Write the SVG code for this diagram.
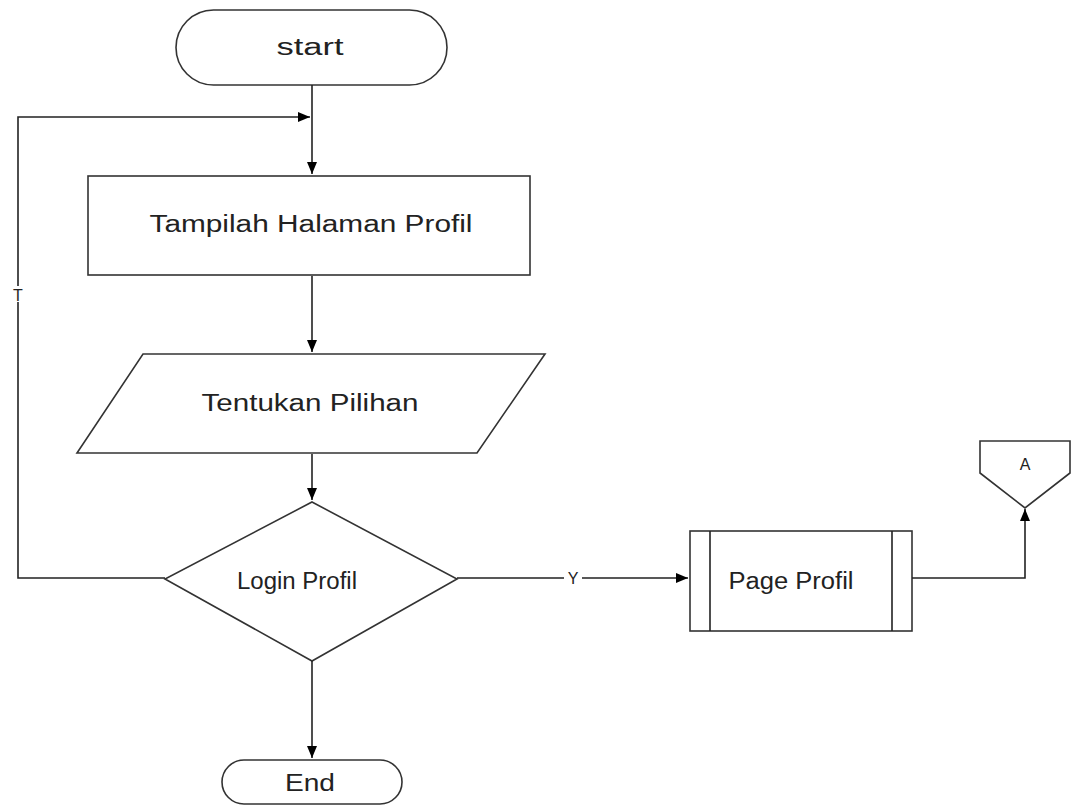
<svg xmlns="http://www.w3.org/2000/svg" width="1072" height="809" viewBox="0 0 1072 809">
<defs>
<marker id="ah" markerWidth="12" markerHeight="10" refX="12" refY="5" orient="auto" markerUnits="userSpaceOnUse">
<path d="M0,0 L12,5 L0,10 Z" fill="#000"/>
</marker>
<style>
.s{fill:#fff;stroke:#333;stroke-width:1.6}
.c{fill:none;stroke:#222;stroke-width:1.6}
.t{font-family:"Liberation Sans",Arial,sans-serif;font-size:23px;fill:#222;text-anchor:middle}
.l{font-family:"Liberation Sans",Arial,sans-serif;font-size:16px;fill:#222;text-anchor:middle}
</style>
</defs>
<rect width="1072" height="809" fill="#fff"/>
<g id="start">
<rect class="s" x="176" y="10" width="271" height="75" rx="37.5"/>
<text class="t" x="310" y="55" textLength="67" lengthAdjust="spacingAndGlyphs">start</text>
</g>
<g id="tampil">
<rect class="s" x="88" y="176" width="442" height="99"/>
<text class="t" x="311" y="232" textLength="323" lengthAdjust="spacingAndGlyphs">Tampilah Halaman Profil</text>
</g>
<g id="tentukan">
<polygon class="s" points="143,354 545,354 477,453 77,453"/>
<text class="t" x="310" y="411" textLength="217" lengthAdjust="spacingAndGlyphs">Tentukan Pilihan</text>
</g>
<g id="login">
<polygon class="s" points="312,502 457,579 312,661 165,579"/>
<text class="t" x="297" y="589" textLength="120" lengthAdjust="spacingAndGlyphs">Login Profil</text>
</g>
<g id="page">
<rect class="s" x="690" y="531" width="222" height="100"/>
<path class="c" d="M710,531 V631 M892,531 V631"/>
<text class="t" x="791" y="589" textLength="125" lengthAdjust="spacingAndGlyphs">Page Profil</text>
</g>
<g id="offpage">
<polygon class="s" points="980,441 1070,441 1070,473 1025,508 980,473"/>
<text class="l" x="1025" y="470" font-size="14">A</text>
</g>
<g id="end">
<rect class="s" x="222" y="760" width="180" height="44" rx="22"/>
<text class="t" x="310" y="791" textLength="50" lengthAdjust="spacingAndGlyphs">End</text>
</g>
<g id="connectors">
<path class="c" d="M312,85 V174" marker-end="url(#ah)"/>
<path class="c" d="M165,578 H18 V117 H310" marker-end="url(#ah)"/>
<path class="c" d="M312,276 V352" marker-end="url(#ah)"/>
<path class="c" d="M312,454 V500" marker-end="url(#ah)"/>
<path class="c" d="M457,578 H564 M582,578 H688" marker-end="url(#ah)"/>
<path class="c" d="M312,661 V758" marker-end="url(#ah)"/>
<path class="c" d="M912,578 H1025 V509" marker-end="url(#ah)"/>
<rect x="11" y="286" width="14" height="16" fill="#fff"/>
<text class="l" x="18" y="301">T</text>
<text class="l" x="573" y="584">Y</text>
</g>
</svg>
